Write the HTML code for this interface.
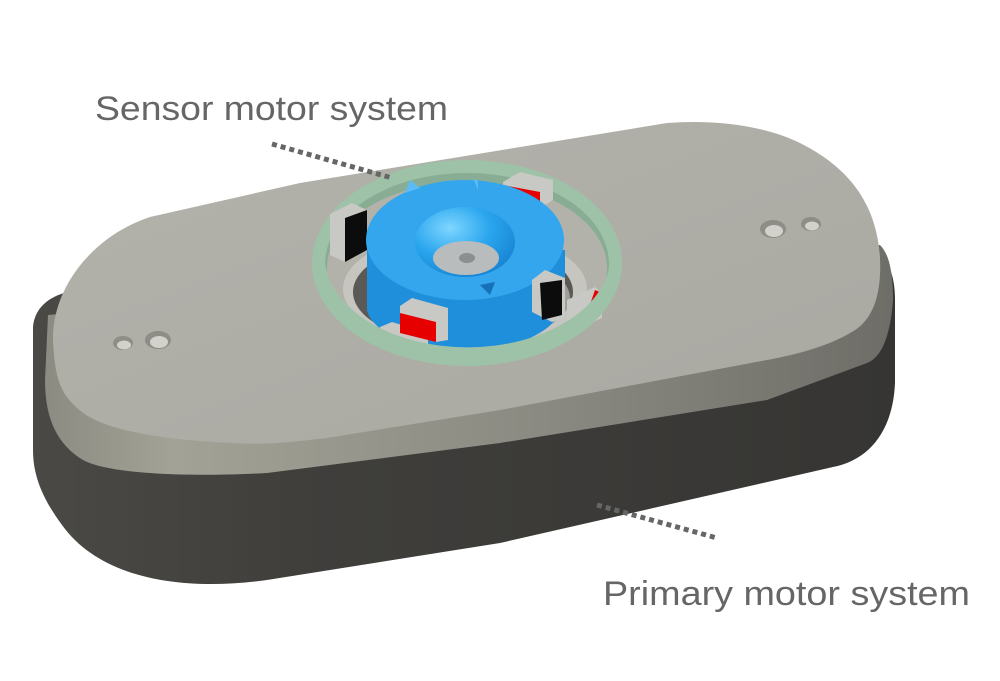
<!DOCTYPE html>
<html><head><meta charset="utf-8"><style>
html,body{margin:0;padding:0;background:#fff;width:1000px;height:681px;overflow:hidden}
</style></head><body>
<svg width="1000" height="681" viewBox="0 0 1000 681" xmlns="http://www.w3.org/2000/svg">
<defs>
<linearGradient id="dark" x1="0" x2="1" y1="0" y2="0">
<stop offset="0" stop-color="#4a4945"/><stop offset="0.3" stop-color="#403f3c"/><stop offset="1" stop-color="#363533"/>
</linearGradient>
<linearGradient id="band" x1="0" x2="1" y1="0" y2="0">
<stop offset="0" stop-color="#8c8b82"/><stop offset="0.15" stop-color="#a3a296"/><stop offset="0.6" stop-color="#8a8981"/><stop offset="1" stop-color="#6e6d67"/>
</linearGradient>
<linearGradient id="face" x1="0" x2="1" y1="0" y2="1">
<stop offset="0" stop-color="#b3b2ab"/><stop offset="1" stop-color="#a9a8a1"/>
</linearGradient>
<radialGradient id="cone" cx="0.35" cy="0.3" r="0.8">
<stop offset="0" stop-color="#7fd6ff"/><stop offset="0.5" stop-color="#2aa6ee"/><stop offset="1" stop-color="#1580d0"/>
</radialGradient>
</defs>

<!-- dark body -->
<path d="M33,330 C33,305 55,292 80,290 L870,248 C888,255 895,275 895,300 L895,383 C893,430 870,460 833,467 L500,543 L267,580 C180,592 100,578 62,525 C42,498 33,475 33,450 Z" fill="url(#dark)"/>
<!-- bevel band -->
<path d="M48,315 L880,245 C890,255 893,275 893,300 C890,340 880,358 867,363 L767,400 L500,443 L267,473 C170,478 105,472 83,460 C58,445 45,420 45,380 Z" fill="url(#band)"/>
<!-- top face -->
<path d="M150,217 L300,183 L667,123 C720,119 767,127 800,143 C850,168 877,205 880,258 C882,300 870,323 850,333 C830,345 800,354 767,360 L500,410 L333,437 C290,443 260,445 233,443 C160,440 105,430 82,412 C62,396 55,383 53,340 C52,290 90,237 150,217 Z" fill="url(#face)"/>

<!-- holes -->
<ellipse cx="123" cy="343" rx="10" ry="7" fill="#8e8d86"/><ellipse cx="124" cy="345" rx="7" ry="4.5" fill="#d2d1cb"/>
<ellipse cx="158" cy="340" rx="13" ry="9" fill="#8e8d86"/><ellipse cx="159" cy="342" rx="9" ry="6" fill="#d2d1cb"/>
<ellipse cx="773" cy="229" rx="13" ry="9" fill="#8e8d86"/><ellipse cx="774" cy="231" rx="9" ry="6" fill="#d2d1cb"/>
<ellipse cx="811" cy="224" rx="10" ry="7" fill="#8e8d86"/><ellipse cx="812" cy="226" rx="7" ry="4.5" fill="#d2d1cb"/>

<!-- ring outer -->
<ellipse cx="467" cy="263" rx="155" ry="103" fill="#9dc2a7"/>
<ellipse cx="467" cy="264" rx="142" ry="91" fill="#88ad94"/>
<ellipse cx="467" cy="268" rx="140" ry="86" fill="#b2b1aa"/>
<!-- recess -->
<ellipse cx="465" cy="289" rx="122" ry="58" fill="#c6c5bf"/>
<ellipse cx="463" cy="292" rx="110" ry="52" fill="#5a5955"/>
<ellipse cx="470" cy="298" rx="100" ry="45" fill="#9e9d97"/>

<!-- magnets behind -->
<polygon points="330,214 352,203 367,210 367,250 345,262 330,255" fill="#c8c9c4"/>
<polygon points="345,218 367,210 367,250 345,262" fill="#0c0c0c"/>
<polygon points="503,182 520,172 553,180 553,200 540,208 503,198" fill="#c8c9c4"/>
<polygon points="503,185 540,192 540,208 503,198" fill="#e60000"/>

<!-- blue body -->
<path d="M367,240 L367,310 C372,335 420,350 465,350 C520,350 560,330 565,300 L565,250 Z" fill="#1f8fdc"/>
<ellipse cx="465" cy="240" rx="99" ry="60" fill="#34a6ee"/>
<polygon points="405,193 410,180 420,188" fill="#5bbcf5"/>
<polygon points="473,178 478,181 478,190" fill="#5bbcf5"/>
<ellipse cx="465" cy="242" rx="50" ry="35" fill="url(#cone)"/>
<ellipse cx="466" cy="258" rx="33" ry="17" fill="#b8bcbd"/>
<ellipse cx="467" cy="258" rx="8" ry="5" fill="#8b8f90"/>
<polygon points="480,285 495,282 490,295" fill="#1770b8"/>

<!-- magnets front -->
<polygon points="532,280 545,270 565,278 565,318 552,322 532,312" fill="#c8c9c4"/>
<polygon points="540,283 562,280 562,315 542,320" fill="#0c0c0c"/>
<polygon points="567,300 595,287 602,293 602,318 575,330 567,325" fill="#c8c9c4"/>
<polygon points="595,290 602,293 583,325" fill="#e60000"/>
<polygon points="380,327 392,322 428,333 428,347 416,350 380,338" fill="#c8c9c4"/>
<polygon points="400,306 412,298 448,308 448,340 436,342 400,330" fill="#c8c9c4"/>
<polygon points="400,313 436,322 436,342 400,333" fill="#e60000"/>

<!-- ring front rim redraw (front portion over magnets) -->
<path d="M312,263 A155,103 0 0 0 622,263 L610,263 A143,92 0 0 1 325,263 Z" fill="#9dc2a7"/>

<!-- leader lines -->
<line x1="272" y1="144" x2="392" y2="178" stroke="#666" stroke-width="5" stroke-dasharray="5,4"/>
<line x1="597" y1="505" x2="717" y2="538" stroke="#666" stroke-width="5" stroke-dasharray="5,4"/>

<!-- labels -->
<text x="95" y="120" font-family="Liberation Sans, sans-serif" font-size="34" fill="#666" textLength="353" lengthAdjust="spacingAndGlyphs">Sensor motor system</text>
<text x="603" y="605" font-family="Liberation Sans, sans-serif" font-size="34" fill="#666" textLength="367" lengthAdjust="spacingAndGlyphs">Primary motor system</text>
</svg>
</body></html>
